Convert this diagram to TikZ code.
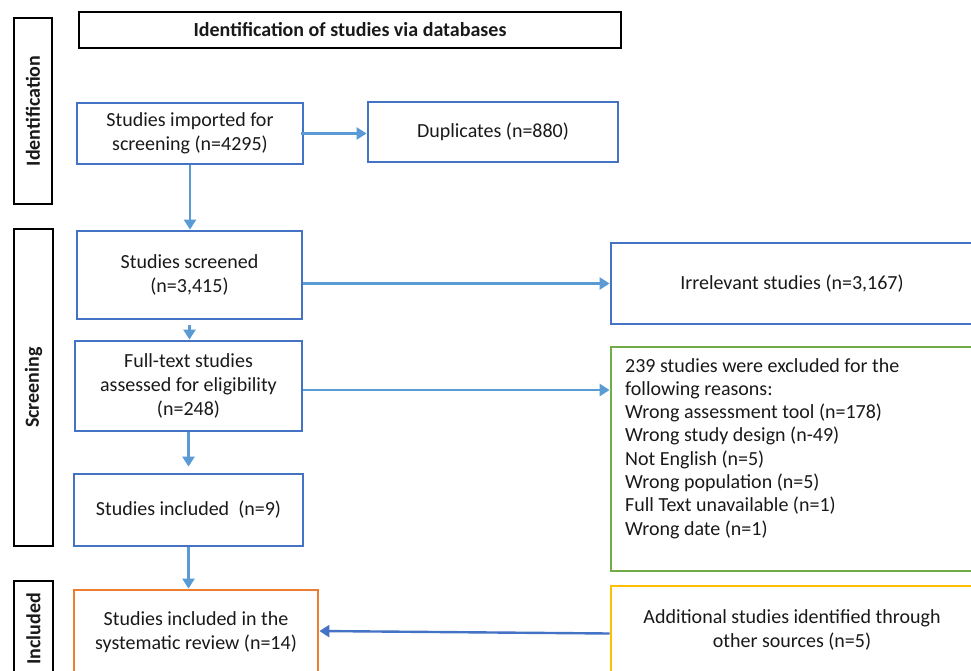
\documentclass[tikz,border=0pt]{standalone}
\usepackage{fontspec}
\setmainfont{Carlito}
\usetikzlibrary{arrows.meta}
\definecolor{boxblue}{HTML}{4472C4}
\definecolor{arrowblue}{HTML}{5B9BD5}
\definecolor{boxgreen}{HTML}{70AD47}
\definecolor{boxorange}{HTML}{ED7D31}
\definecolor{boxyellow}{HTML}{FFC000}
\tikzset{
  base/.style={draw, line width=2.8pt, inner sep=2pt, align=center, font=\fontsize{20pt}{24pt}\selectfont, text=black!90},
  bluebox/.style={base, draw=boxblue},
  sidebox/.style={base, draw=black},
  sidetxt/.style={rotate=90, font=\bfseries\fontsize{20pt}{22pt}\selectfont, text=black!90},
  conn/.style={draw=arrowblue, line width=2.4pt, -{Triangle[length=10pt,width=12pt]}},
  conndark/.style={draw=boxblue, line width=2.4pt, -{Triangle[length=10pt,width=12pt]}}
}
\begin{document}
\begin{tikzpicture}[x=1pt,y=-1pt]
\useasboundingbox (0,0) rectangle (971,670);
\clip (0,0) rectangle (971,670);
% title
\node[sidebox, minimum width=542pt, minimum height=36pt, font=\bfseries\fontsize{20pt}{22pt}\selectfont] (title) at (350,30) {Identification of studies via databases};
% side labels
\node[sidebox, minimum width=38pt, minimum height=186pt] (idside) at (33,111) {};
\node[sidetxt] (idtxt) at (idside.center) {Identification};
\node[sidebox, minimum width=39pt, minimum height=317pt] (scrside) at (33.5,387.5) {};
\node[sidetxt] (scrtxt) at (scrside.center) {Screening};
\node[sidebox, minimum width=39pt, minimum height=96pt] (inside) at (33.5,629) {};
\node[sidetxt] (intxt) at (inside.center) {Included};
% main boxes
\node[bluebox, minimum width=226pt, minimum height=61pt] (imported) at (190,133.5) {Studies imported for\\screening (n=4295)};
\node[bluebox, minimum width=250pt, minimum height=60pt] (dup) at (493,132) {Duplicates (n=880)};
\node[bluebox, minimum width=225pt, minimum height=88pt] (screened) at (189.5,275) {Studies screened\\(n=3,415)};
\node[bluebox, minimum width=362pt, minimum height=81pt] (irr) at (792,283.5) {Irrelevant studies (n=3,167)};
\node[bluebox, minimum width=227pt, minimum height=90pt] (full) at (188.5,386) {Full-text studies\\assessed for eligibility\\(n=248)};
\node[base, draw=boxgreen, minimum width=362pt, minimum height=224pt] (excl) at (792,459) {};
\node[anchor=north west, align=left, inner sep=0pt, font=\fontsize{20pt}{23.3pt}\selectfont, text=black!90] (excltxt) at (625,358) {239 studies were excluded for the\\following reasons:\\Wrong assessment tool (n=178)\\Wrong study design (n-49)\\Not English (n=5)\\Wrong population (n=5)\\Full Text unavailable (n=1)\\Wrong date (n=1)};
\node[bluebox, minimum width=229pt, minimum height=72pt] (incl) at (188.5,510) {Studies included\ \ (n=9)};
\node[base, draw=boxorange, minimum width=244pt, minimum height=85pt] (final) at (196,632.5) {Studies included in the\\systematic review (n=14)};
\node[base, draw=boxyellow, minimum width=362pt, minimum height=87pt] (addl) at (792,629.5) {Additional studies identified through\\other sources (n=5)};
% connectors
\draw[conn] ([xshift=-3pt]imported.east) -- (imported.east -| dup.west);
\draw[conn] (imported.south) -- (imported.south |- screened.north);
\draw[conn] (irr.west -| screened.east) -- (irr.west);
\draw[conn] ([yshift=-5pt]screened.south) -- (screened.south |- full.north);
\draw[conn] ([yshift=-4pt]full.east) -- ([yshift=-4pt]full.east -| excl.west);
\draw[conn] (full.south) -- ([yshift=6pt]full.south |- incl.north);
\draw[conn] (incl.south) -- (incl.south |- final.north);
\draw[conndark] ([yshift=-4pt]addl.west) -- ([yshift=1.5pt]final.east);
\end{tikzpicture}
\end{document}
